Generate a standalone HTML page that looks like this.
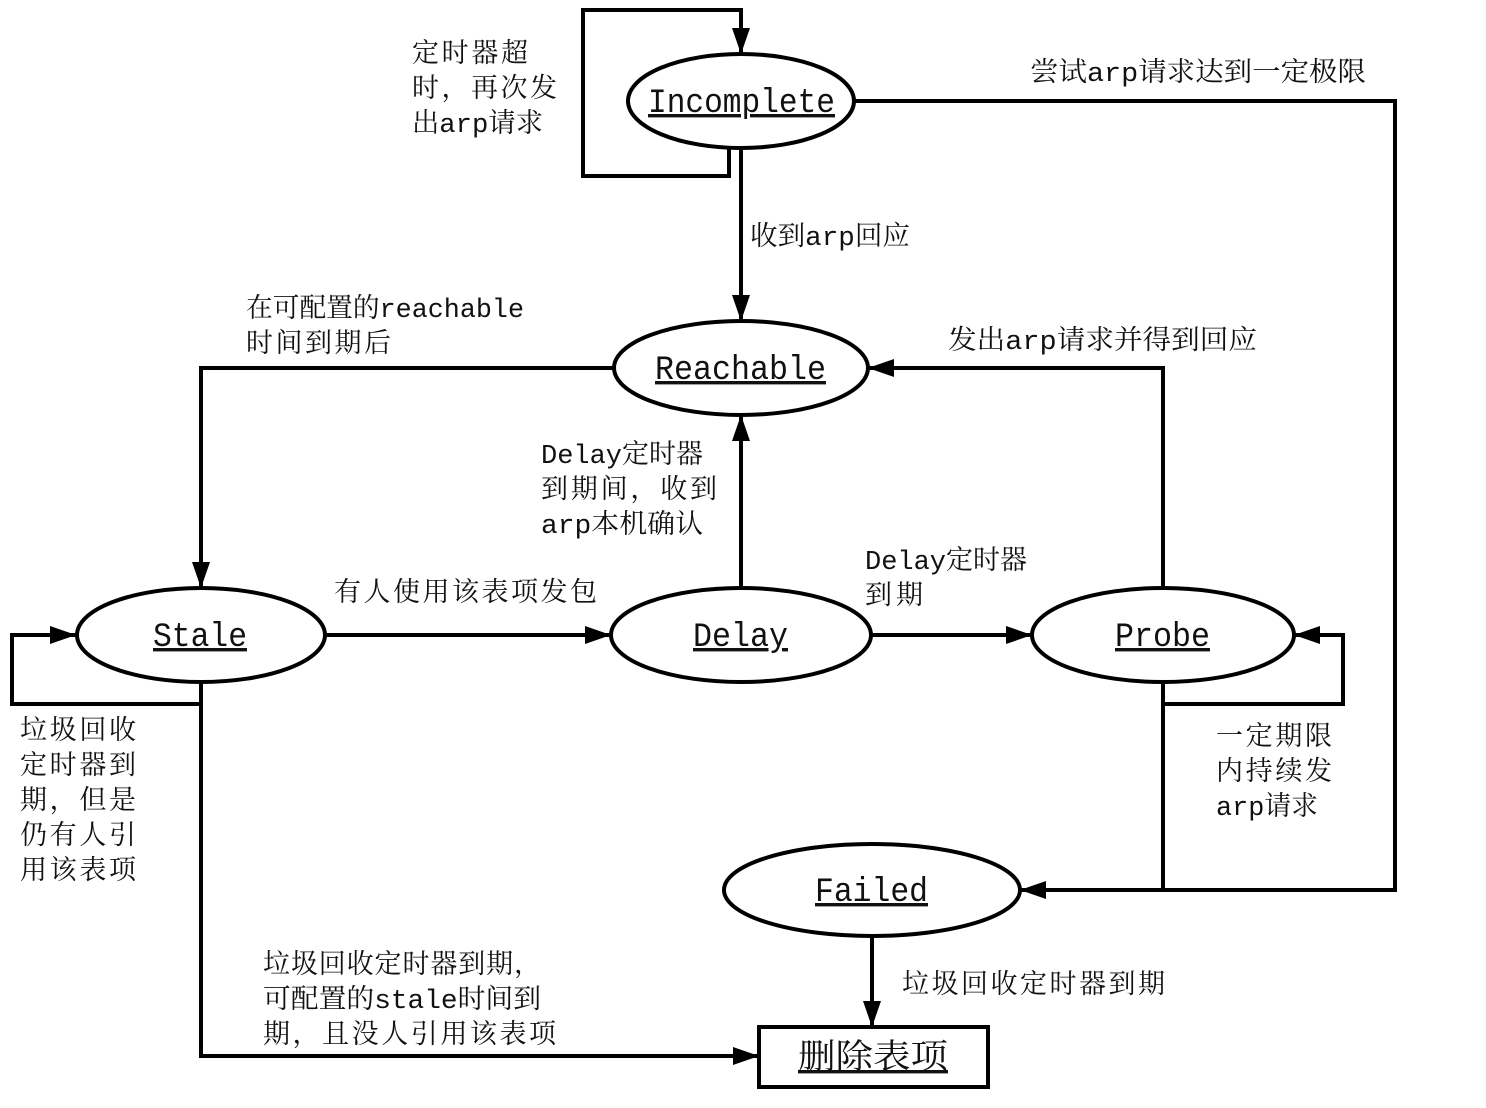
<!DOCTYPE html>
<html><head><meta charset="utf-8"><style>
html,body{margin:0;padding:0;background:#fff;}
svg{display:block;}
text{font-family:"Liberation Mono","Noto Serif CJK SC","Noto Sans CJK SC",monospace;font-size:27px;fill:#111;}
.n{font-size:34px;text-decoration:underline;}
</style></head><body>
<svg width="1486" height="1108" viewBox="0 0 1486 1108" xmlns="http://www.w3.org/2000/svg">
<defs>
<marker id="b" markerWidth="26" markerHeight="18" refX="26" refY="9" orient="auto" markerUnits="userSpaceOnUse" viewBox="0 0 26 18"><path d="M0,0 L26,9 L0,18 Z" fill="#000"/></marker></defs>
<g fill="none" stroke="#000" stroke-width="4">
<polyline points="729,148 729,176 583,176 583,10 741,10 741,54" marker-end="url(#b)"/>
<polyline points="854,101 1395,101 1395,890 1020,890" marker-end="url(#b)"/>
<polyline points="741,148 741,321" marker-end="url(#b)"/>
<polyline points="614,368 201,368 201,588" marker-end="url(#b)"/>
<polyline points="741,588 741,415" marker-end="url(#b)"/>
<polyline points="1163,588 1163,368 868,368" marker-end="url(#b)"/>
<polyline points="325,635 611,635" marker-end="url(#b)"/>
<polyline points="871,635 1032,635" marker-end="url(#b)"/>
<polyline points="201,682 201,704 12,704 12,635 76,635" marker-end="url(#b)"/>
<polyline points="1163,682 1163,704 1343,704 1343,635 1294,635" marker-end="url(#b)"/>
<polyline points="1163,704 1163,890"/>
<polyline points="201,704 201,1056 759,1056" marker-end="url(#b)"/>
<polyline points="872,936 872,1027" marker-end="url(#b)"/>
<ellipse cx="741" cy="101" rx="113" ry="47"/>
<ellipse cx="741" cy="368" rx="127" ry="47"/>
<ellipse cx="201" cy="635" rx="124" ry="47"/>
<ellipse cx="741" cy="635" rx="130" ry="47"/>
<ellipse cx="1163" cy="635" rx="131" ry="47"/>
<ellipse cx="872" cy="890" rx="148" ry="46"/>
<rect x="759" y="1027" width="229" height="60"/>
</g>
<text class="n" x="648" y="112" textLength="187" lengthAdjust="spacingAndGlyphs">Incomplete</text>
<text class="n" x="655" y="379" textLength="171" lengthAdjust="spacingAndGlyphs">Reachable</text>
<text class="n" x="153" y="646" textLength="94" lengthAdjust="spacingAndGlyphs">Stale</text>
<text class="n" x="693" y="646" textLength="95" lengthAdjust="spacingAndGlyphs">Delay</text>
<text class="n" x="1115" y="646" textLength="95" lengthAdjust="spacingAndGlyphs">Probe</text>
<text class="n" x="815" y="901" textLength="113" lengthAdjust="spacingAndGlyphs">Failed</text>
<text class="n" x="798" y="1068" textLength="150" lengthAdjust="spacingAndGlyphs">删除表项</text>

<text x="412" y="62" textLength="116">定时器超</text>
<text x="412" y="97" textLength="145">时，再次发</text>
<text x="412" y="132" textLength="131" lengthAdjust="spacingAndGlyphs">出arp请求</text>
<text x="1030" y="81" textLength="336" lengthAdjust="spacingAndGlyphs">尝试arp请求达到一定极限</text>
<text x="750" y="245" textLength="160" lengthAdjust="spacingAndGlyphs">收到arp回应</text>
<text x="246" y="317" textLength="278" lengthAdjust="spacingAndGlyphs">在可配置的reachable</text>
<text x="246" y="352" textLength="145">时间到期后</text>
<text x="948" y="349" textLength="309" lengthAdjust="spacingAndGlyphs">发出arp请求并得到回应</text>
<text x="541" y="463" textLength="162" lengthAdjust="spacingAndGlyphs">Delay定时器</text>
<text x="541" y="498" textLength="176">到期间，收到</text>
<text x="541" y="533" textLength="162" lengthAdjust="spacingAndGlyphs">arp本机确认</text>
<text x="334" y="601" textLength="263">有人使用该表项发包</text>
<text x="865" y="569" textLength="162" lengthAdjust="spacingAndGlyphs">Delay定时器</text>
<text x="865" y="604" textLength="58">到期</text>
<text x="20" y="739" textLength="116">垃圾回收</text>
<text x="20" y="774" textLength="116">定时器到</text>
<text x="20" y="809" textLength="116">期，但是</text>
<text x="20" y="844" textLength="116">仍有人引</text>
<text x="20" y="879" textLength="116">用该表项</text>
<text x="1216" y="745" textLength="116">一定期限</text>
<text x="1216" y="780" textLength="116">内持续发</text>
<text x="1216" y="815" textLength="102" lengthAdjust="spacingAndGlyphs">arp请求</text>
<text x="902" y="993" textLength="263">垃圾回收定时器到期</text>
<text x="263" y="973" textLength="278">垃圾回收定时器到期，</text>
<text x="263" y="1008" textLength="278" lengthAdjust="spacingAndGlyphs">可配置的stale时间到</text>
<text x="263" y="1043" textLength="293">期，且没人引用该表项</text>
</svg>
</body></html>
